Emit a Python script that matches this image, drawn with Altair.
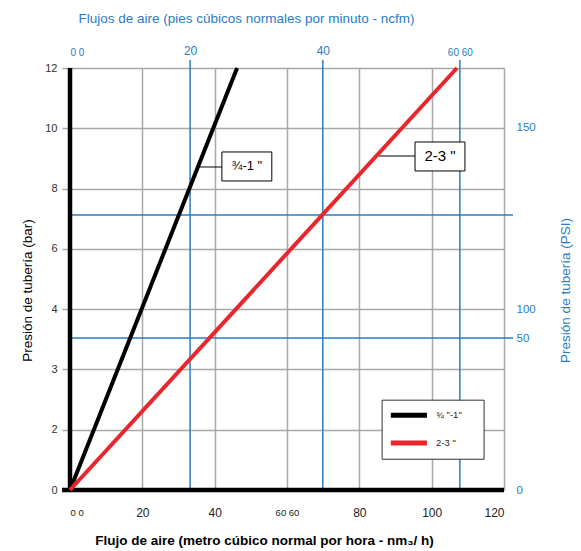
import altair as alt
import pandas as pd

BLUE = "#2a7cc0"
GRID = "#a8a8a8"
RED = "#e8262b"
FONT = "Liberation Sans"

# bottom axis: air flow (nm3/h)
x_ticks = [0, 20, 40, 60, 80, 100, 120]
x_labels = ["0 0", "20", "40", "60 60", "80", "100", "120"]
# left axis: pipe pressure (bar) — equally spaced grid rows
bar_rows = [0, 1, 2, 3, 4, 5, 6, 7]
bar_labels = ["0", "2", "3", "4", "6", "8", "10", "12"]
# top axis: ncfm, positioned on the nm3/h scale
ncfm_pos = [0, 33.2, 69.9, 107.8]
ncfm_labels = ["0 0", "20", "40", "60 60"]
# right axis: PSI, positioned on the grid rows
psi_pos = [0, 2.52, 2.99, 6.02]
psi_labels = ["0", "50", "100", "150"]
blue_h_rows = [2.52, 4.56]
blue_v_pos = [33.2, 69.9, 107.8]

# series: flow (nm3/h) reached at the top row (12 bar)
series = ['¾ "-1"', '2-3 "']
series_colors = ["#000000", RED]
flow_start = [0, 0]
flow_top = [46.2, 107.0]
row_top = 7

# callouts
callout_text = ['¾-1 "', '2-3 "']
callout_x = [42.0, 95.4]
callout_x2 = [55.8, 109.2]
callout_y = [5.126, 5.292]
callout_y2 = [5.607, 5.773]
callout_lead_x = [35.7, 85.4]
callout_lead_y = [5.358, 5.54]
callout_size = [13, 15]

# legend box
legend_box = dict(x=86.3, x2=114.5, y=0.51, y2=1.49)
legend_rows = [1.24, 0.78]
legend_line_x = [88.7, 98.7]
legend_text_x = 101.2


def label_expr(vals, labels):
    expr = "datum.label"
    for v, l in reversed(list(zip(vals, labels))):
        expr = f"abs(datum.value - {v}) < 0.01 ? '{l}' : ({expr})"
    return expr


XS = alt.Scale(domain=[0, 120], nice=False, zero=False)
YS = alt.Scale(domain=[0, 7], nice=False, zero=False)


def X(f, axis=None):
    return alt.X(f, type="quantitative", scale=XS, axis=axis)


def Y(f, axis=None):
    return alt.Y(f, type="quantitative", scale=YS, axis=axis)


# --- axes layers ---
axis_df = pd.DataFrame({"x": [0.0], "y": [0.0]})
bottom_left = alt.Chart(axis_df).mark_point(opacity=0).encode(
    x=X("x", alt.Axis(
        orient="bottom", values=x_ticks, labelExpr=label_expr(x_ticks, x_labels),
        grid=True, gridColor=GRID, gridWidth=1.5, domain=False, ticks=False,
        labelPadding=17, labelColor="#222", labelFont=FONT,
        labelFontSize={"condition": {"test": "datum.value == 0 || datum.value == 60", "value": 9.5}, "value": 12},
        title="Flujo de aire (metro cúbico normal por hora - nm₃/ h)",
        titleFont=FONT, titleFontSize=13.5, titleFontWeight="bold", titleColor="#000",
        titleX=194, titleY=50, titleBaseline="middle", titleAlign="center")),
    y=Y("y", alt.Axis(
        orient="left", values=bar_rows, labelExpr=label_expr(bar_rows, bar_labels),
        grid=True, gridColor=GRID, gridWidth=1.5, domain=False,
        ticks=True, tickColor=GRID, tickSize=8, tickWidth=1.5,
        labelPadding=5, labelColor="#333", labelFont=FONT, labelFontSize=11,
        title="Presión de tubería (bar)", titleFont=FONT, titleFontSize=13.5,
        titleFontWeight="normal", titleColor="#000", titleAngle=270,
        titleX=-43, titleY=222, titleBaseline="middle", titleAlign="center")),
)

top_right = alt.Chart(axis_df).mark_point(opacity=0).encode(
    x=X("x", alt.Axis(
        orient="top", values=ncfm_pos, labelExpr=label_expr(ncfm_pos, ncfm_labels),
        grid=False, domain=False, ticks=False, labelPadding=11,
        labelColor=BLUE, labelFont=FONT,
        labelFontSize={"condition": {"test": "datum.value > 1 && datum.value < 100", "value": 12}, "value": 10},
        title="Flujos de aire (pies cúbicos normales por minuto - ncfm)",
        titleFont=FONT, titleFontSize=13.5, titleFontWeight="normal", titleColor=BLUE,
        titleX=176, titleY=-50, titleBaseline="middle", titleAlign="center")),
    y=Y("y", alt.Axis(
        orient="right", values=psi_pos, labelExpr=label_expr(psi_pos, psi_labels),
        grid=False, domain=False, ticks=False, labelPadding=12, labelAlign="left",
        labelColor=BLUE, labelFont=FONT, labelFontSize=11.5,
        title="Presión de tubería (PSI)", titleFont=FONT, titleFontSize=13.5,
        titleFontWeight="normal", titleColor=BLUE, titleAngle=270,
        titleX=61, titleY=222, titleBaseline="middle", titleAlign="center")),
)

# --- blue reference lines ---
bh = pd.DataFrame({"y": blue_h_rows, "x": [0.0] * len(blue_h_rows), "x2": [122.5] * len(blue_h_rows)})
blue_h = alt.Chart(bh).mark_rule(color=BLUE, strokeWidth=1.5).encode(
    x=X("x"), x2="x2", y=Y("y"))
bv = pd.DataFrame({"x": blue_v_pos, "y": [0.0] * len(blue_v_pos), "y2": [7.133] * len(blue_v_pos)})
blue_v = alt.Chart(bv).mark_rule(color=BLUE, strokeWidth=1.5).encode(
    x=X("x"), y=Y("y"), y2="y2")

# --- thick black axis lines ---
ax_v = alt.Chart(pd.DataFrame({"x": [0.0], "y": [0.0], "y2": [7.0]})).mark_rule(
    color="#000", strokeWidth=4.5).encode(x=X("x"), y=Y("y"), y2="y2")
ax_h = alt.Chart(pd.DataFrame({"x": [-2.2], "x2": [120.0], "y": [0.0]})).mark_rule(
    color="#000", strokeWidth=4.5).encode(x=X("x"), x2="x2", y=Y("y"))

# --- series lines ---
rows = []
for s, f0, f1 in zip(series, flow_start, flow_top):
    rows.append({"series": s, "flow": f0, "row": 0})
    rows.append({"series": s, "flow": f1, "row": row_top})
lines_df = pd.DataFrame(rows)
lines = alt.Chart(lines_df).mark_line(strokeWidth=4, strokeCap="butt").encode(
    x=X("flow"), y=Y("row"),
    color=alt.Color("series:N", scale=alt.Scale(domain=series, range=series_colors), legend=None),
    detail="series:N")

# --- callouts ---
cdf = pd.DataFrame({"t": callout_text, "x": callout_x, "x2": callout_x2,
                    "y": callout_y, "y2": callout_y2,
                    "lx": callout_lead_x, "ly": callout_lead_y, "size": callout_size})
cdf["cx"] = (cdf["x"] + cdf["x2"]) / 2
cdf["cy"] = (cdf["y"] + cdf["y2"]) / 2
leads = alt.Chart(cdf).mark_rule(color="#000", strokeWidth=1).encode(
    x=X("lx"), x2="x", y=Y("ly"))
boxes = alt.Chart(cdf).mark_rect(fill="white", stroke="#000", strokeWidth=1).encode(
    x=X("x"), x2="x2", y=Y("y"), y2="y2")
ctext = alt.Chart(cdf).mark_text(font=FONT, color="#000", align="center", baseline="middle").encode(
    x=X("cx"), y=Y("cy"), text="t:N", size=alt.Size("size:Q", scale=None, legend=None))

# --- legend ---
lg_box = alt.Chart(pd.DataFrame([legend_box])).mark_rect(
    fill="white", stroke="#333", strokeWidth=1).encode(
    x=X("x"), x2="x2", y=Y("y"), y2="y2")
lg_df = pd.DataFrame({"series": series, "row": legend_rows,
                      "x": [legend_line_x[0]] * 2, "x2": [legend_line_x[1]] * 2,
                      "tx": [legend_text_x] * 2})
lg_lines = alt.Chart(lg_df).mark_rule(strokeWidth=5).encode(
    x=X("x"), x2="x2", y=Y("row"),
    color=alt.Color("series:N", scale=alt.Scale(domain=series, range=series_colors), legend=None))
lg_text = alt.Chart(lg_df).mark_text(font=FONT, fontSize=9.5, color="#222", align="left", baseline="middle").encode(
    x=X("tx"), y=Y("row"), text="series:N")

chart = alt.layer(
    bottom_left, top_right, blue_h, blue_v, ax_v, ax_h, lines,
    leads, boxes, ctext, lg_box, lg_lines, lg_text
).resolve_scale(x="independent", y="independent", color="independent").properties(
    width=434, height=422,
    autosize=alt.AutoSizeParams(type="none"),
    padding={"left": 62, "top": 60, "right": 69, "bottom": 61},
).configure_view(stroke=None).configure(font=FONT)

chart.save("out.html", embed_options={"renderer": "svg", "actions": False})
